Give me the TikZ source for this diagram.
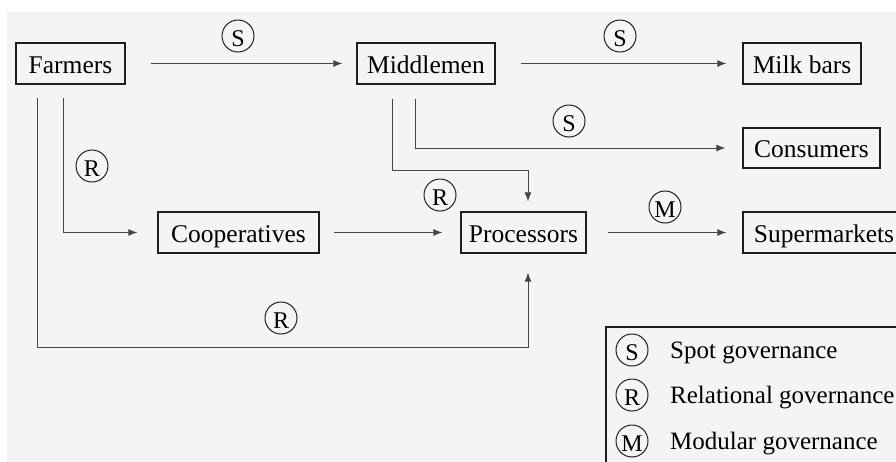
\documentclass[tikz,border=0pt]{standalone}
\usepackage{fontspec}
\setmainfont{Liberation Serif}
\usetikzlibrary{arrows.meta}
\definecolor{panel}{RGB}{244,244,244}
\definecolor{ink}{RGB}{30,30,30}
\definecolor{wire}{RGB}{70,70,70}
\begin{document}
\begin{tikzpicture}[x=1pt,y=-1pt,
  actor/.style={draw=ink,line width=1.3pt,fill=panel,inner sep=0pt,
    minimum height=41pt,font=\fontsize{25.5}{30}\selectfont,
    text height=19pt,text depth=0pt},
  gov/.style={draw=ink,circle,line width=1pt,inner sep=0pt,minimum size=32pt,
    font=\fontsize{24}{28}\selectfont,text height=21.5pt,text depth=0pt},
  legtext/.style={anchor=west,inner sep=0pt,font=\fontsize{25}{30}\selectfont,
    text height=16pt,text depth=0pt},
  flow/.style={draw=wire,line width=0.9pt,-{Latex[length=9pt,width=7pt]}}]

% canvas and backdrop
\useasboundingbox (0,0) rectangle (896,461);
\clip (0,0) rectangle (896,461);
\fill[white] (0,0) rectangle (896,461);
\fill[panel] (7,12) rectangle (900,470);

% actors in the chain
\node[actor,minimum width=109pt] (farm) at (70.5,63.5) {Farmers};
\node[actor,minimum width=138pt] (mid)  at (426,63.5)  {Middlemen};
\node[actor,minimum width=118pt] (milk) at (802,63.5)  {Milk bars};
\node[actor,minimum width=137pt,minimum height=40pt] (cons) at (811.5,148) {Consumers};
\node[actor,minimum width=161pt] (coop) at (238.5,232.5) {Cooperatives};
\node[actor,minimum width=125pt] (proc) at (523.5,232.5) {Processors};
\node[actor,minimum width=162pt] (sup)  at (824,232.5)   {Supermarkets};

% flows between actors
\draw[flow,shorten <=25pt,shorten >=14pt] (farm.east) -- (mid.west);
\draw[flow,shorten <=25pt,shorten >=16pt] (mid.east) -- (milk.west);
\draw[flow,shorten <=14pt,shorten >=18pt] (coop.east) -- (proc.west);
\draw[flow,shorten <=21pt,shorten >=16pt] (proc.east) -- (sup.west);
\draw[flow] ([shift={(48,13)}]farm.south west) |- ([xshift=-20pt]coop.west);
\draw[flow] ([shift={(22,13)}]farm.south west) |- (528,347)
  -- ([shift={(4.5,19)}]proc.south);
\draw[flow] ([shift={(36,14)}]mid.south west) |- (528,170)
  -- ([shift={(4.5,-10)}]proc.north);
\draw[flow] ([shift={(59,14)}]mid.south west) |- ([xshift=-17pt]cons.west);

% governance marks on the flows
\node[gov] (g1) at (238,36)  {S};
\node[gov] (g2) at (620,36)  {S};
\node[gov] (g3) at (569,121) {S};
\node[gov] (g4) at (92,166)  {R};
\node[gov] (g5) at (440,195) {R};
\node[gov] (g6) at (665,207) {M};
\node[gov] (g7) at (281,318) {R};

% legend
\draw[ink,line width=1.3pt,fill=panel] (606,327) rectangle (905,470);
\node[gov] (ls) at (632,350) {S};
\node[gov] (lr) at (632,395) {R};
\node[gov] (lm) at (632,441) {M};
\node[legtext] (ts) at (670,350) {Spot governance};
\node[legtext] (tr) at (670,395) {Relational governance};
\node[legtext] (tm) at (670,441) {Modular governance};
\end{tikzpicture}
\end{document}
